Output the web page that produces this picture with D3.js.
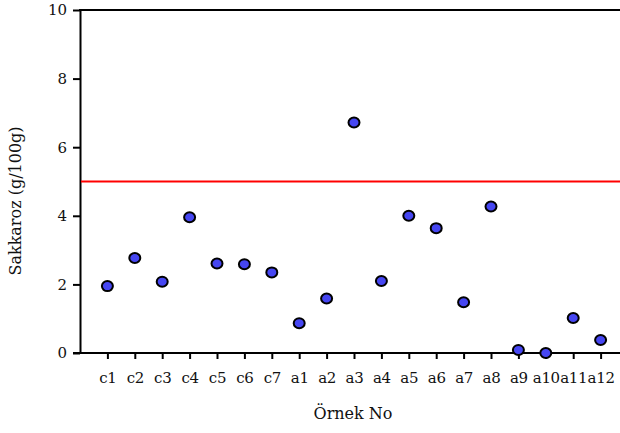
<!DOCTYPE html>
<html>
<head>
<meta charset="utf-8">
<script src="https://cdn.jsdelivr.net/npm/d3@7"></script>
<style>
  body { margin: 0; background: #fff; }
  svg text { font-family: "DejaVu Serif", "Liberation Serif", serif; fill: #111; }
</style>
</head>
<body>
<svg id="chart" width="620" height="433"></svg>
<script>
// sample labels and sucrose values
var samples = ["c1","c2","c3","c4","c5","c6","c7","a1","a2","a3","a4","a5","a6","a7","a8","a9","a10","a11","a12"];
var sakkaroz = [1.95, 2.77, 2.08, 3.96, 2.61, 2.59, 2.35, 0.87, 1.59, 6.72, 2.10, 4.00, 3.64, 1.48, 4.27, 0.09, 0.00, 1.02, 0.38];
var yTicks = [0, 2, 4, 6, 8, 10];
var limit = 5;

(function(){
    var svg = d3.select("#chart");
    var left = 80, top = 10, bottom = 353, right = 620;

    //index scale, one empty slot on each side
    var x = d3.scaleLinear().domain([0, samples.length + 1]).range([left, left + 27.4 * (samples.length + 1)]);
    var y = d3.scaleLinear().domain([0, 10]).range([bottom, top]);

    //y axis
    var yAxis = svg.append("g")
        .attr("transform", "translate(" + left + ",0)")
        .call(d3.axisLeft(y).tickValues(yTicks).tickSize(7).tickSizeOuter(0).tickPadding(6));
    yAxis.select(".domain").attr("stroke", "#000").attr("stroke-width", 2);
    yAxis.selectAll(".tick line").attr("stroke-width", 2);
    yAxis.selectAll("text").style("font-size", "15px");

    //x axis
    var xAxis = svg.append("g")
        .attr("transform", "translate(0," + bottom + ")")
        .call(d3.axisBottom(x).tickValues(d3.range(1, samples.length + 1))
            .tickFormat(function(d){ return samples[d - 1]; })
            .tickSize(6).tickSizeOuter(0).tickPadding(13));
    xAxis.select(".domain").remove();
    xAxis.append("line").attr("x1", left - 7).attr("x2", right).attr("stroke", "#000").attr("stroke-width", 2);
    xAxis.selectAll(".tick line").attr("stroke-width", 2);
    xAxis.selectAll("text").style("font-size", "15px").attr("letter-spacing", "-0.3px");

    //top frame line
    svg.append("line")
        .attr("x1", left - 1).attr("x2", right)
        .attr("y1", top).attr("y2", top)
        .attr("stroke", "#000").attr("stroke-width", 2);

    //limit line
    svg.append("line")
        .attr("x1", left + 1).attr("x2", right)
        .attr("y1", y(limit)).attr("y2", y(limit))
        .attr("stroke", "#ff0000").attr("stroke-width", 2);

    //points
    svg.selectAll("ellipse.pt")
        .data(sakkaroz)
        .enter().append("ellipse")
        .attr("class", "pt")
        .attr("cx", function(d, i){ return x(i + 1); })
        .attr("cy", function(d){ return y(d); })
        .attr("rx", 5.5).attr("ry", 5)
        .attr("fill", "#4646f2")
        .attr("stroke", "#000").attr("stroke-width", 2);

    //axis titles
    svg.append("text")
        .attr("x", 353).attr("y", 419)
        .attr("text-anchor", "middle")
        .style("font-size", "16px")
        .text("Örnek No");

    svg.append("text")
        .attr("transform", "translate(21,201) rotate(-90)")
        .attr("text-anchor", "middle")
        .style("font-size", "16px")
        .text("Sakkaroz (g/100g)");
})();
</script>
</body>
</html>
